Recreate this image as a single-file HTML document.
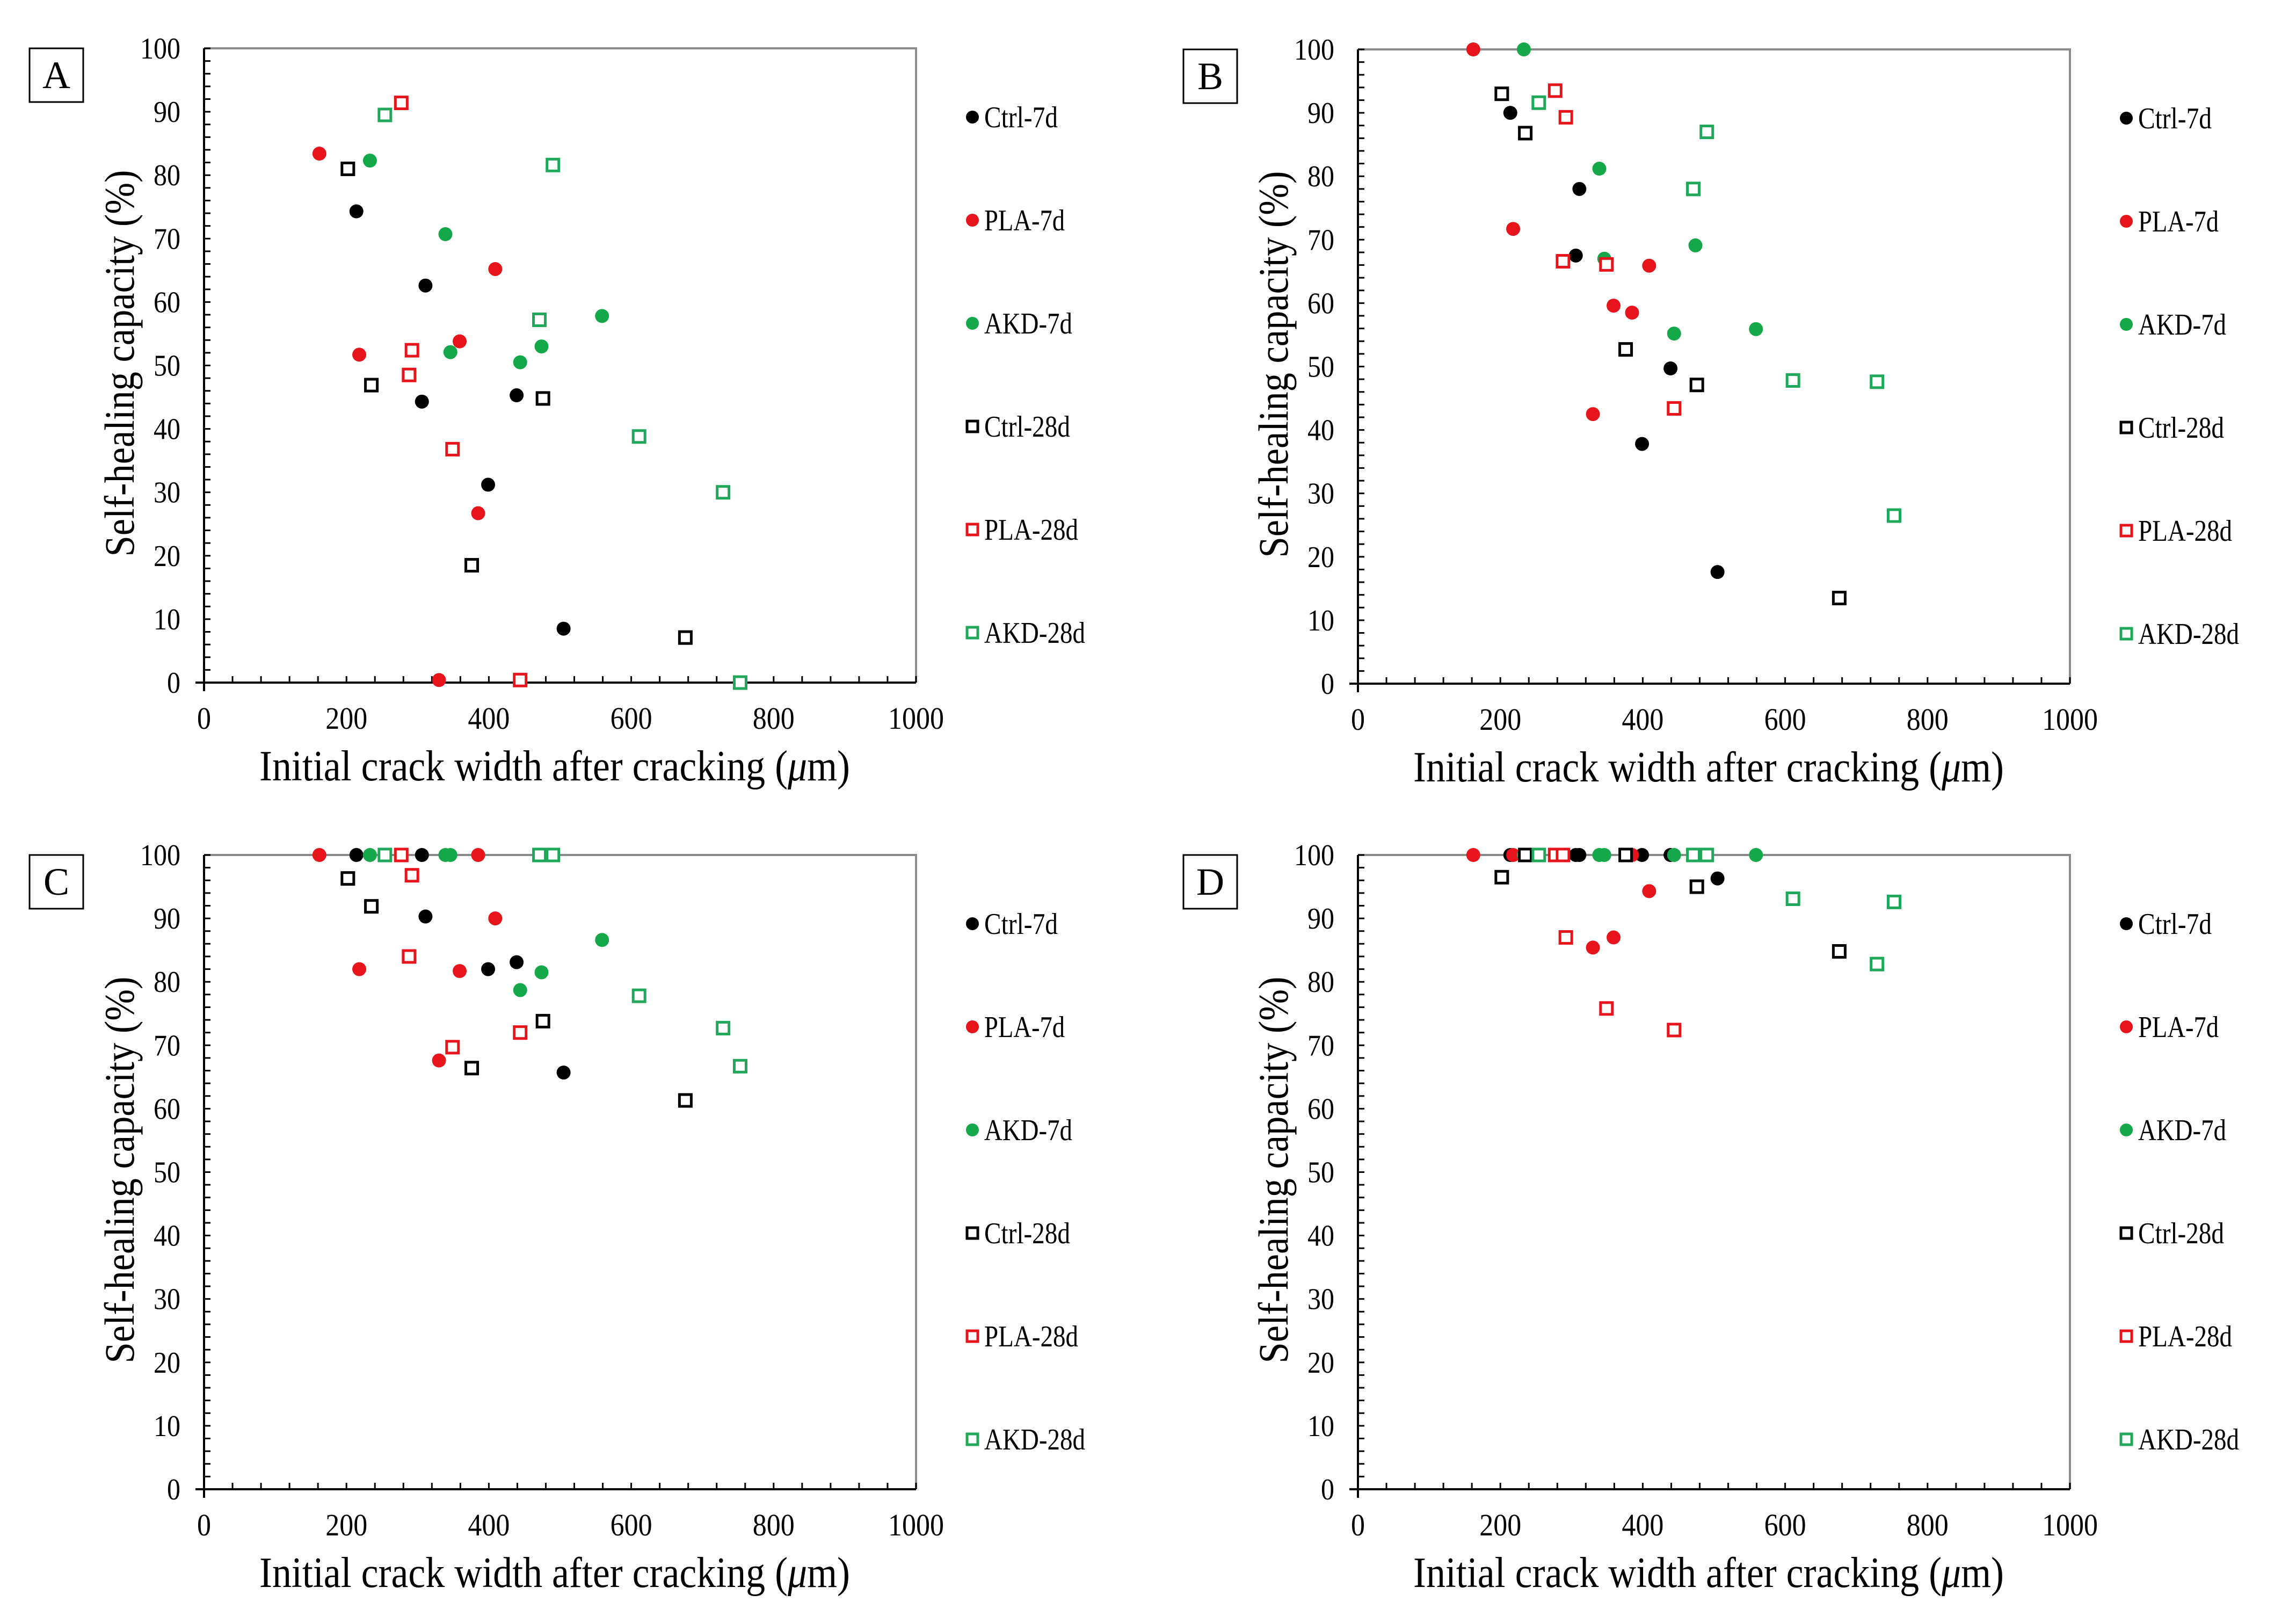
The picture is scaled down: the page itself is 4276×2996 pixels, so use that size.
<!DOCTYPE html>
<html><head><meta charset="utf-8"><style>
html,body{margin:0;padding:0;background:#fff}
svg{display:block}
text{font-family:"Liberation Serif",serif;fill:#000}
</style></head><body>
<svg id="fig" width="4276" height="2996" viewBox="0 0 4276 2996" xmlns="http://www.w3.org/2000/svg"></svg>
<script>
// ----- data -----
const seriesNames = ["Ctrl-7d","PLA-7d","AKD-7d","Ctrl-28d","PLA-28d","AKD-28d"];
const xTicks = [0,200,400,600,800,1000];
const yTicks = [0,10,20,30,40,50,60,70,80,90,100];
// crack widths (µm) per series
const xCtrl7 = [214,311,306,439,399,505];
const xPLA7  = [162,218,359,409,385,330];
const xAKD7  = [233,339,346,444,474,559];
const xCtrl28= [202,235,376,476,676];
const xPLA28 = [277,292,288,349,444];
const xAKD28 = [254,490,471,611,729,753];
// Panel A
const aCtrl7 = [74.3,62.6,44.3,45.3,31.2,8.5];
const aPLA7  = [83.4,51.7,53.8,65.2,26.7,0.4];
const aAKD7  = [82.3,70.7,52.1,50.5,53.0,57.8];
const aCtrl28= [81.0,46.9,18.5,44.8,7.1];
const aPLA28 = [91.4,52.4,48.5,36.8,0.4];
const aAKD28 = [89.5,81.6,57.2,38.8,30.0,0.0];
// Panel B
const bCtrl7 = [90.0,78.0,67.5,49.7,37.8,17.6];
const bPLA7  = [100,71.7,59.6,65.9,58.5,42.5];
const bAKD7  = [100,81.2,67.0,55.2,69.1,55.9];
const bCtrl28= [93.0,86.8,52.7,47.1,13.5];
const bPLA28 = [93.5,89.3,66.6,66.1,43.4];
const bAKD28 = [91.6,87.0,78.0,47.8,47.6,26.5];
// Panel C
const cCtrl7 = [100,90.3,100,83.1,82.0,65.7];
const cPLA7  = [100,82.0,81.7,90.0,100,67.6];
const cAKD7  = [100,100,100,78.7,81.5,86.6];
const cCtrl28= [96.3,91.9,66.4,73.8,61.3];
const cPLA28 = [100,96.8,84.0,69.7,72.0];
const cAKD28 = [100,100,100,77.8,72.7,66.7];
// Panel D
const dCtrl7 = [100,100,100,100,100,96.3];
const dPLA7  = [100,100,87.0,94.3,100,85.4];
const dAKD7  = [100,100,100,100,100,100];
const dCtrl28= [96.5,100,100,95.0,84.8];
const dPLA28 = [100,87.0,100,75.8,72.4];
const dAKD28 = [100,100,100,93.1,82.8,92.6];

const xs = [xCtrl7,xPLA7,xAKD7,xCtrl28,xPLA28,xAKD28];
const panelLabels = ["A","B","C","D"];
const panelData = [
 [aCtrl7,aPLA7,aAKD7,aCtrl28,aPLA28,aAKD28],
 [bCtrl7,bPLA7,bAKD7,bCtrl28,bPLA28,bAKD28],
 [cCtrl7,cPLA7,cAKD7,cCtrl28,cPLA28,cAKD28],
 [dCtrl7,dPLA7,dAKD7,dCtrl28,dPLA28,dAKD28]];
const colors = ["#000","#e8141b","#14a84b","#000","#e8141b","#1fa85a"];
const filled = [true,true,true,false,false,false];
const legendW = [137,150,164,160,175,188];

const NS="http://www.w3.org/2000/svg";
const svg=document.getElementById('fig');
function mk(tag,attrs,parent){const e=document.createElementNS(NS,tag);for(const k in attrs)e.setAttribute(k,attrs[k]);(parent||svg).appendChild(e);return e;}

const offsets=[[0,0],[2149,2],[0,1502],[2149,1502]];
panelLabels.forEach((lab,pi)=>{
  const [ox,oy]=offsets[pi];
  const L=380+ox,R=1706+ox,T=90+oy,B=1271+oy;
  const sx=v=>L+(R-L)*v/1000, sy=v=>B-(B-T)*v/100;
  const g=mk('g',{});
  
  
  // frame
  const fr=mk('path',{d:`M${L},${T}H${R}V${B}`,fill:'none',stroke:'#8a8a8a','stroke-width':4},g);
  
  
  // ticks
  for(let v=0;v<=1000;v+=40){const x=sx(v);const t=mk('line',{x1:x,x2:x,y1:B,y2:B-12,stroke:'#000','stroke-width':3},g);
    }
  for(let v=0;v<=100;v+=2){const y=sy(v);const t=mk('line',{x1:L,x2:L+12,y1:y,y2:y,stroke:'#000','stroke-width':3},g);
    }
  const xa=mk('line',{x1:L-16,x2:R,y1:B,y2:B,stroke:'#000','stroke-width':4},g);
  
  const ya=mk('line',{x1:L,x2:L,y1:T,y2:B+16,stroke:'#000','stroke-width':4},g);
  
  // tick labels
  xTicks.forEach(v=>{const t=mk('text',{x:sx(v),y:B+86,'font-size':58,'text-anchor':'middle',textLength:String(v).length*26,lengthAdjust:'spacingAndGlyphs'},g);t.textContent=v;
    });
  yTicks.forEach(v=>{const w=String(v).length*25;const t=mk('text',{x:L-44-w,y:sy(v)+19,'font-size':56,textLength:w,lengthAdjust:'spacingAndGlyphs'},g);t.textContent=v;
    });
  // titles
  const xt=mk('text',{x:(L+R)/2-10,y:B+182,'font-size':80,'text-anchor':'middle',textLength:1100,lengthAdjust:'spacingAndGlyphs'},g);
  xt.innerHTML='Initial crack width after cracking (<tspan font-style="italic">μ</tspan>m)';
  
  const cy=(T+B)/2-4, cx=L-157;
  const yt=mk('text',{x:cx,y:cy,'font-size':78,'text-anchor':'middle',transform:`rotate(-90 ${cx} ${cy}) translate(0 26)`,textLength:720,lengthAdjust:'spacingAndGlyphs'},g);
  yt.textContent='Self-healing capacity (%)';
  
  // panel label
  const bx=mk('rect',{x:55+ox,y:90+oy,width:100,height:100,fill:'#fff',stroke:'#000','stroke-width':3},g);
  
  const bl=mk('text',{x:105+ox,y:164+oy,'font-size':72,'text-anchor':'middle'},g);bl.textContent=lab;
  
  // series
  panelData[pi].forEach((ys,si)=>{
    const sg=mk('g',{},g);
    
    
    ys.forEach((v,i)=>{
      const x=sx(xs[si][i]),y=sy(v);let m;
      if(filled[si]) m=mk('circle',{cx:x,cy:y,r:13,fill:colors[si]},sg);
      else m=mk('rect',{x:x-11,y:y-11,width:22,height:22,fill:'#fff',stroke:colors[si],'stroke-width':5},sg);
      
      
    });
  });
  // legend
  seriesNames.forEach((n,si)=>{
    const ly=218+192*si+oy, lx=1811+ox;
    const lg=mk('g',{},g);
    
    
    if(filled[si]) mk('circle',{cx:lx,cy:ly,r:12,fill:colors[si]},lg);
    else mk('rect',{x:lx-10,y:ly-10,width:20,height:20,fill:'#fff',stroke:colors[si],'stroke-width':5},lg);
    const t=mk('text',{x:lx+22,y:ly+19,'font-size':56,textLength:legendW[si],lengthAdjust:'spacingAndGlyphs'},lg);t.textContent=n;
  });
});
</script>
</body></html>
